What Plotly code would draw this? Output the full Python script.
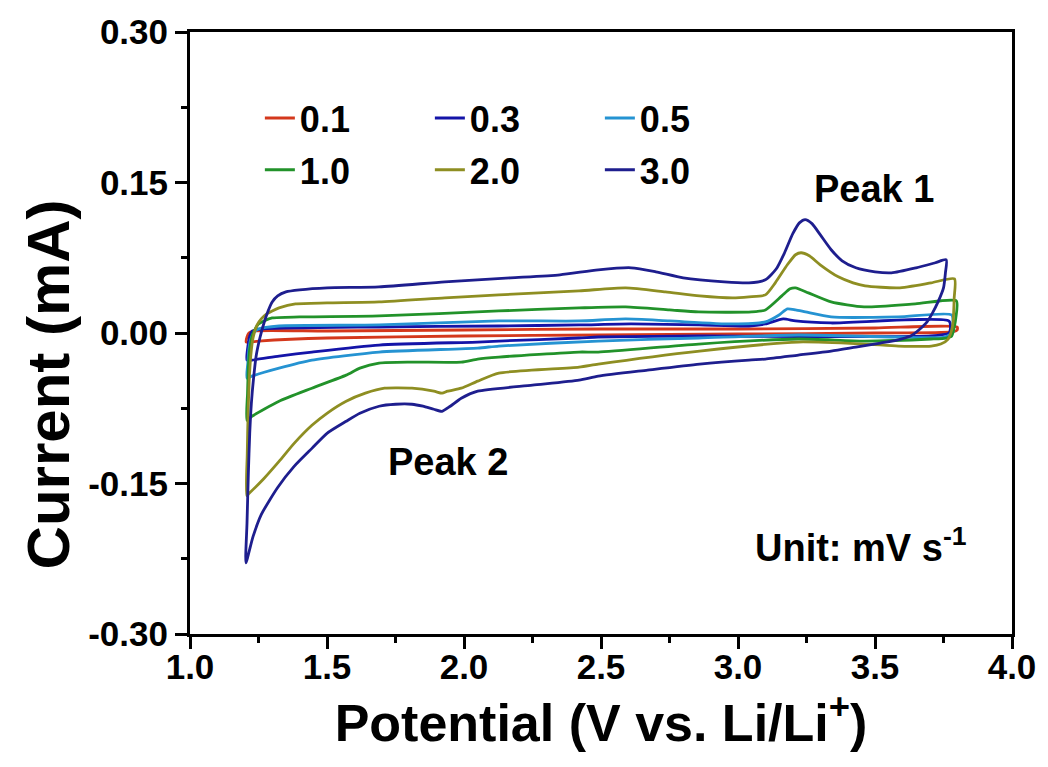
import plotly.graph_objects as go

# ---------------- data ----------------
rates = ["0.1", "0.3", "0.5", "1.0", "2.0", "3.0"]
colors = ["#D4381C", "#1414A8", "#2593D2", "#22922A", "#8E8E22", "#1E1E8E"]

v_01 = [1.205, 1.208, 1.215, 1.23, 1.5, 2.0, 2.5, 3.0, 3.5, 3.80,
        3.80, 3.78, 3.5, 3.0, 2.5, 2.0, 1.5, 1.25, 1.205]
i_01 = [-0.009, -0.004, 0.000, 0.002, 0.002, 0.003, 0.004, 0.004, 0.005, 0.006,
        0.003, 0.001, 0.000, -0.001, -0.002, -0.003, -0.005, -0.008, -0.009]

v_03 = [1.208, 1.212, 1.218, 1.228, 1.26, 1.69, 2.127, 2.42, 2.61, 2.86, 3.04, 3.10,
        3.165, 3.21, 3.34, 3.77,
        3.775, 3.77, 3.705, 2.856, 2.49, 2.42, 2.127, 2.05, 1.69, 1.445, 1.325, 1.226, 1.208]
i_03 = [-0.027, -0.012, -0.003, 0.002, 0.004, 0.006, 0.007, 0.008, 0.009, 0.008, 0.007, 0.009,
        0.014, 0.012, 0.010, 0.012,
        0.004, 0.000, -0.003, -0.003, -0.004, -0.005, -0.008, -0.009, -0.012, -0.019, -0.023, -0.027, -0.027]

v_05 = [1.208, 1.211, 1.215, 1.222, 1.235, 1.25, 1.325, 1.69, 2.127, 2.42, 2.59, 2.75, 2.98,
        3.10, 3.15, 3.18, 3.21, 3.246, 3.34, 3.585, 3.78,
        3.785, 3.785, 3.756, 3.585, 3.22, 2.856, 2.49, 2.127, 2.05, 1.69, 1.445, 1.325, 1.226, 1.208]
i_05 = [-0.045, -0.030, -0.016, -0.006, 0.001, 0.004, 0.007, 0.008, 0.012, 0.012, 0.014, 0.012, 0.009,
        0.011, 0.018, 0.024, 0.023, 0.021, 0.016, 0.016, 0.018,
        0.008, 0.001, -0.004, -0.004, -0.002, -0.005, -0.008, -0.013, -0.015, -0.019, -0.027, -0.035, -0.043, -0.045]

v_10 = [1.208, 1.210, 1.213, 1.218, 1.228, 1.24, 1.25, 1.27, 1.30, 1.40, 1.69, 2.127, 2.42, 2.59,
        2.75, 2.856, 3.05, 3.10, 3.16, 3.19, 3.21, 3.257, 3.34, 3.46, 3.647, 3.797,
        3.795, 3.79, 3.78, 3.76, 3.705, 3.46, 3.22, 2.856, 2.49, 2.42, 2.127, 2.05, 1.99, 1.81,
        1.69, 1.62, 1.57, 1.445, 1.325, 1.226, 1.208]
i_10 = [-0.087, -0.060, -0.035, -0.016, -0.002, 0.005, 0.009, 0.012, 0.015, 0.016, 0.017, 0.022, 0.025, 0.026,
        0.023, 0.021, 0.021, 0.023, 0.037, 0.044, 0.045, 0.040, 0.031, 0.026, 0.029, 0.032,
        0.015, 0.007, -0.003, -0.005, -0.006, -0.008, -0.006, -0.011, -0.019, -0.019, -0.024, -0.026, -0.029, -0.029,
        -0.030, -0.035, -0.042, -0.055, -0.068, -0.083, -0.087]

v_20 = [1.207, 1.209, 1.212, 1.216, 1.222, 1.23, 1.245, 1.26, 1.28, 1.30, 1.325, 1.385, 1.50, 1.69,
        1.93, 2.127, 2.42, 2.59, 2.735, 2.86, 2.98, 3.04, 3.10, 3.136, 3.18, 3.21, 3.23, 3.26, 3.30,
        3.366, 3.42, 3.464, 3.585, 3.705, 3.79,
        3.789, 3.787, 3.785, 3.78, 3.767, 3.74, 3.705, 3.585, 3.46, 3.22, 2.86, 2.49, 2.42, 2.127,
        2.05, 1.99, 1.94, 1.92, 1.89, 1.81, 1.71, 1.64, 1.57, 1.50, 1.445, 1.38, 1.325, 1.27, 1.215, 1.207]
i_20 = [-0.162, -0.120, -0.080, -0.048, -0.022, -0.005, 0.008, 0.014, 0.019, 0.022, 0.025, 0.029, 0.030, 0.031,
        0.035, 0.038, 0.042, 0.045, 0.041, 0.037, 0.035, 0.036, 0.038, 0.050, 0.068, 0.078, 0.080, 0.077, 0.068,
        0.056, 0.050, 0.047, 0.045, 0.050, 0.054,
        0.035, 0.020, 0.011, 0.003, -0.006, -0.011, -0.013, -0.013, -0.011, -0.009, -0.018, -0.031, -0.034, -0.040,
        -0.048, -0.055, -0.058, -0.060, -0.058, -0.055, -0.055, -0.060, -0.068, -0.080, -0.092, -0.110, -0.128,
        -0.145, -0.160, -0.162]

v_30 = [1.204, 1.208, 1.213, 1.218, 1.224, 1.232, 1.242, 1.255, 1.27, 1.285, 1.30, 1.32, 1.35, 1.40,
        1.50, 1.69, 1.93, 2.17, 2.35, 2.49, 2.61, 2.70, 2.80, 2.95, 3.04, 3.10, 3.14, 3.17, 3.20, 3.225,
        3.245, 3.27, 3.30, 3.34, 3.38, 3.43, 3.50, 3.56, 3.65, 3.72, 3.76,
        3.757, 3.75, 3.73, 3.71, 3.69, 3.66, 3.63, 3.58, 3.52, 3.43, 3.34, 3.22, 3.10, 3.04, 2.86,
        2.67, 2.49, 2.42, 2.25, 2.05, 1.99, 1.95, 1.92, 1.89, 1.85, 1.81, 1.75, 1.69, 1.62, 1.57,
        1.50, 1.445, 1.38, 1.32, 1.26, 1.23, 1.204]
i_30 = [-0.229, -0.190, -0.140, -0.100, -0.070, -0.045, -0.022, -0.005, 0.010, 0.022, 0.031, 0.037, 0.041, 0.043,
        0.045, 0.046, 0.051, 0.055, 0.058, 0.063, 0.065, 0.061, 0.055, 0.051, 0.050, 0.053, 0.064, 0.080, 0.099, 0.110,
        0.113, 0.109, 0.098, 0.083, 0.072, 0.065, 0.061, 0.060, 0.065, 0.070, 0.073,
        0.060, 0.045, 0.031, 0.020, 0.011, 0.003, -0.003, -0.007, -0.010, -0.014, -0.018, -0.022, -0.026, -0.027, -0.031,
        -0.037, -0.043, -0.047, -0.052, -0.058, -0.065, -0.073, -0.078, -0.076, -0.073, -0.071, -0.071, -0.073, -0.080,
        -0.088, -0.100, -0.115, -0.133, -0.154, -0.181, -0.203, -0.229]

potentials = [v_01, v_03, v_05, v_10, v_20, v_30]
currents = [i_01, i_03, i_05, i_10, i_20, i_30]

x_ticks = [1.0, 1.5, 2.0, 2.5, 3.0, 3.5, 4.0]
x_tick_labels = ["1.0", "1.5", "2.0", "2.5", "3.0", "3.5", "4.0"]
y_ticks = [-0.30, -0.15, 0.00, 0.15, 0.30]
y_tick_labels = ["-0.30", "-0.15", "0.00", "0.15", "0.30"]

# ---------------- figure ----------------
FONT = "Arial, 'Liberation Sans', sans-serif"
fig = go.Figure()
for k, (name, col, vx, iy) in enumerate(zip(rates, colors, potentials, currents)):
    fig.add_trace(go.Scatter(
        x=vx, y=iy, mode="lines", name=name,
        line=dict(color=col, width=2.8, shape="spline", smoothing=0.6),
        legend="legend" if k < 3 else "legend2",
    ))

legend_common = dict(
    orientation="h", xanchor="left", yanchor="middle",
    font=dict(family=FONT, size=36, color="black", weight="bold"),
    bgcolor="rgba(0,0,0,0)", entrywidth=125, entrywidthmode="pixels",
    itemclick=False, itemdoubleclick=False,
)

fig.update_layout(
    width=1048, height=767,
    margin=dict(l=190, r=33, t=32, b=133),
    paper_bgcolor="white", plot_bgcolor="white",
    showlegend=True,
    legend=dict(x=0.085, y=0.857, **legend_common),
    legend2=dict(x=0.085, y=0.771, **legend_common),
    xaxis=dict(
        range=[1.0, 4.0], tickvals=x_ticks, ticktext=x_tick_labels,
        showline=True, linecolor="black", linewidth=3, mirror=True,
        ticks="outside", ticklen=12, tickwidth=3, tickcolor="black",
        ticklabelstandoff=-12,
        minor=dict(dtick=0.25, ticks="outside", ticklen=6, tickwidth=3, tickcolor="black", showgrid=False),
        showgrid=False, zeroline=False,
        tickfont=dict(family=FONT, size=35, color="black", weight="bold"),
        title=dict(text="Potential (V vs. Li/Li<sup>+</sup>)", standoff=18,
                   font=dict(family=FONT, size=52, color="black", weight="bold")),
    ),
    yaxis=dict(
        range=[-0.30, 0.30], tickvals=y_ticks, ticktext=y_tick_labels,
        showline=True, linecolor="black", linewidth=3, mirror=True,
        ticks="outside", ticklen=12, tickwidth=3, tickcolor="black",
        minor=dict(dtick=0.075, tick0=0, ticks="outside", ticklen=6, tickwidth=3, tickcolor="black", showgrid=False),
        showgrid=False, zeroline=False,
        tickfont=dict(family=FONT, size=35, color="black", weight="bold"),
    ),
)

ann_font = dict(family=FONT, size=38, color="black", weight="bold")
# y-axis title (placed as rotated text so it can sit slightly below the axis centre, as in the reference)
fig.add_annotation(xref="paper", yref="paper", x=-0.172, y=0.414, text="Current (mA)",
                   xanchor="center", yanchor="middle",
                   textangle=-90, showarrow=False,
                   font=dict(family=FONT, size=60, color="black", weight="bold"))
fig.add_annotation(x=3.497, y=0.144, text="Peak 1", showarrow=False, font=ann_font)
fig.add_annotation(x=1.94, y=-0.129, text="Peak 2", showarrow=False, font=ann_font)
fig.add_annotation(x=3.45, y=-0.211, text="Unit: mV s<sup>-1</sup>", showarrow=False, font=ann_font)

fig.write_html("out.html")
